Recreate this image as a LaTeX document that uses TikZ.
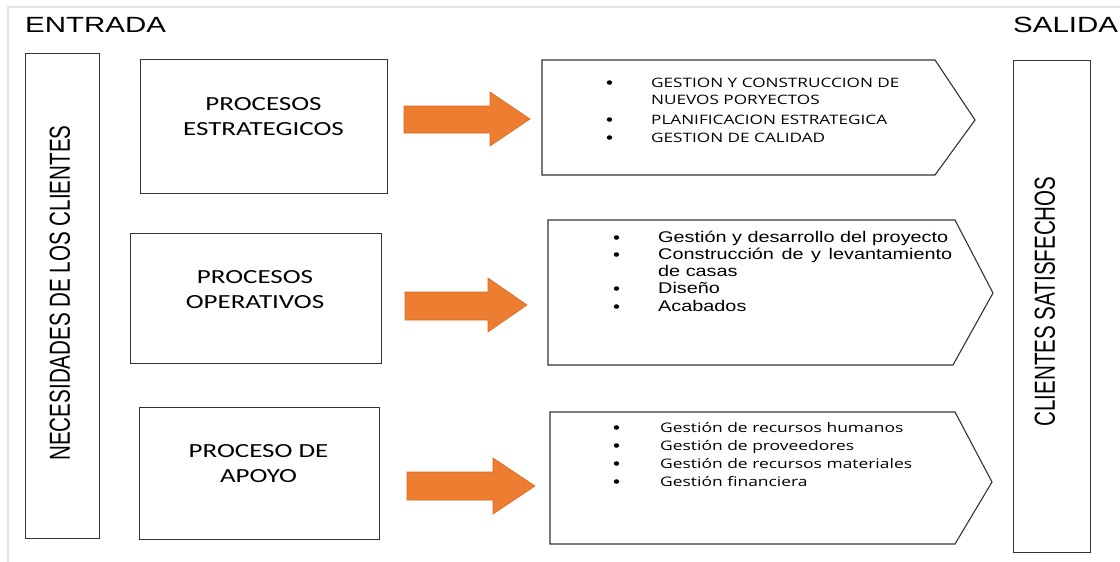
\documentclass[tikz,border=0pt]{standalone}
\usepackage{fontspec}
\setmainfont{Liberation Sans}
\newfontfamily\fArialW[FakeStretch=1.34]{Liberation Sans}
\newfontfamily\fArialN[FakeStretch=0.71]{Liberation Sans}
\newfontfamily\fArialM[FakeStretch=1.28]{Liberation Sans}
\newfontfamily\fCalW[FakeStretch=1.35]{Carlito}
\newfontfamily\fOpenW[FakeStretch=1.32]{Open Sans}
\newfontfamily\fBul[FakeStretch=1.2]{Liberation Sans}
\definecolor{orangeA}{HTML}{ED7D31}
\definecolor{orangeE}{HTML}{D8691F}
\definecolor{frameC}{HTML}{E4E4E4}
\definecolor{lineC}{HTML}{333333}
\newcommand{\bulw}[1]{\makebox[#1][l]{\raisebox{-1.2pt}{\fBul\fontsize{16.5}{16.5}\selectfont\textbullet}}}
\begin{document}
\begin{tikzpicture}[x=1pt,y=-1pt,
  box/.style={draw=lineC, line width=1.1pt, fill=white, inner sep=0pt, anchor=north west},
  outline/.style={draw=lineC, line width=1.1pt, line join=miter},
  blockarrow/.style={fill=orangeA, draw=orangeE, line width=0.6pt},
  heading/.style={anchor=base west, inner sep=0pt, font=\fArialW\fontsize{22}{26}\selectfont},
  vtext/.style={rotate=90, inner sep=0pt, font=\fArialN\fontsize{29}{32}\selectfont},
  ptext/.style={align=center, inner sep=0pt, font=\fCalW\fontsize{20}{25}\selectfont},
  itemA/.style={anchor=base west, inner sep=0pt, font=\fOpenW\fontsize{13}{16}\selectfont},
  itemB/.style={anchor=base west, inner sep=0pt, font=\fArialM\fontsize{15.5}{18}\selectfont},
  itemC/.style={anchor=base west, inner sep=0pt, font=\fOpenW\fontsize{13.2}{16}\selectfont}
]
\useasboundingbox (0,0) rectangle (1120,562);
% outer light frame
\draw[frameC, line width=1.6pt] (8,562) -- (8,7) -- (1120,7);

% headings
\node[heading] (entrada) at (25,32) {ENTRADA};
\node[heading] (salida) at (1013,32) {SALIDA};

% side boxes
\node[box, minimum width=74pt, minimum height=485pt] (need) at (25,53) {};
\node[vtext] (needt) at (60,293) {NECESIDADES DE LOS CLIENTES};
\node[box, minimum width=77pt, minimum height=492pt] (sat) at (1013,60) {};
\node[vtext] (satt) at (1045,301.5) {CLIENTES SATISFECHOS};

% process boxes
\node[box, minimum width=247pt, minimum height=134pt] (pe) at (140,59) {};
\node[ptext] (pet) at (263.5,116.5) {PROCESOS\\ESTRATEGICOS};
\node[box, minimum width=251pt, minimum height=130pt] (po) at (130,233) {};
\node[ptext] (pot) at (255,290) {PROCESOS\\OPERATIVOS};
\node[box, minimum width=240pt, minimum height=132pt] (pa) at (139,407) {};
\node[ptext] (pat) at (258.5,464) {PROCESO DE\\APOYO};

% orange block arrows
\fill[blockarrow] (404,106) -- (490,106) -- (490,92) -- (530,119) -- (490,146) -- (490,133) -- (404,133) -- cycle;
\fill[blockarrow] (405,292) -- (488,292) -- (488,278) -- (527,305) -- (488,332) -- (488,320) -- (405,320) -- cycle;
\fill[blockarrow] (407,472) -- (493,472) -- (493,458) -- (535,486) -- (493,514) -- (493,500) -- (407,500) -- cycle;

% chevron boxes
\draw[outline] (542,60) coordinate (c1) -- (935,60) -- (975,120) coordinate (c1tip) -- (935,175) -- (542,175) -- cycle;
\draw[outline] (548,220) coordinate (c2) -- (955,220) -- (993,293) coordinate (c2tip) -- (953,365) -- (548,365) -- cycle;
\draw[outline] (550,412) coordinate (c3) -- (955,412) -- (992,482) coordinate (c3tip) -- (955,544) -- (550,544) -- cycle;

% list 1
\node[itemA] (a1) at (606,87) {\bulw{45pt}GESTION Y CONSTRUCCION DE};
\node[itemA] (a2) at (651,104.5) {NUEVOS PORYECTOS};
\node[itemA] (a3) at (606,124) {\bulw{45pt}PLANIFICACION ESTRATEGICA};
\node[itemA] (a4) at (606,142) {\bulw{45pt}GESTION DE CALIDAD};

% list 2
\node[itemB] (b1) at (613,242) {\bulw{45pt}Gestión y desarrollo del proyecto};
\node[itemB] (b2) at (613,259) {\bulw{45pt}\makebox[294pt][s]{Construcción de y levantamiento}};
\node[itemB] (b3) at (658,276) {de casas};
\node[itemB] (b4) at (613,293.5) {\bulw{45pt}Diseño};
\node[itemB] (b5) at (613,311) {\bulw{45pt}Acabados};

% list 3
\node[itemC] (d1) at (613,432) {\bulw{47pt}Gestión de recursos humanos};
\node[itemC] (d2) at (613,450) {\bulw{47pt}Gestión de proveedores};
\node[itemC] (d3) at (613,468.5) {\bulw{47pt}Gestión de recursos materiales};
\node[itemC] (d4) at (613,486) {\bulw{47pt}Gestión financiera};
\end{tikzpicture}
\end{document}
